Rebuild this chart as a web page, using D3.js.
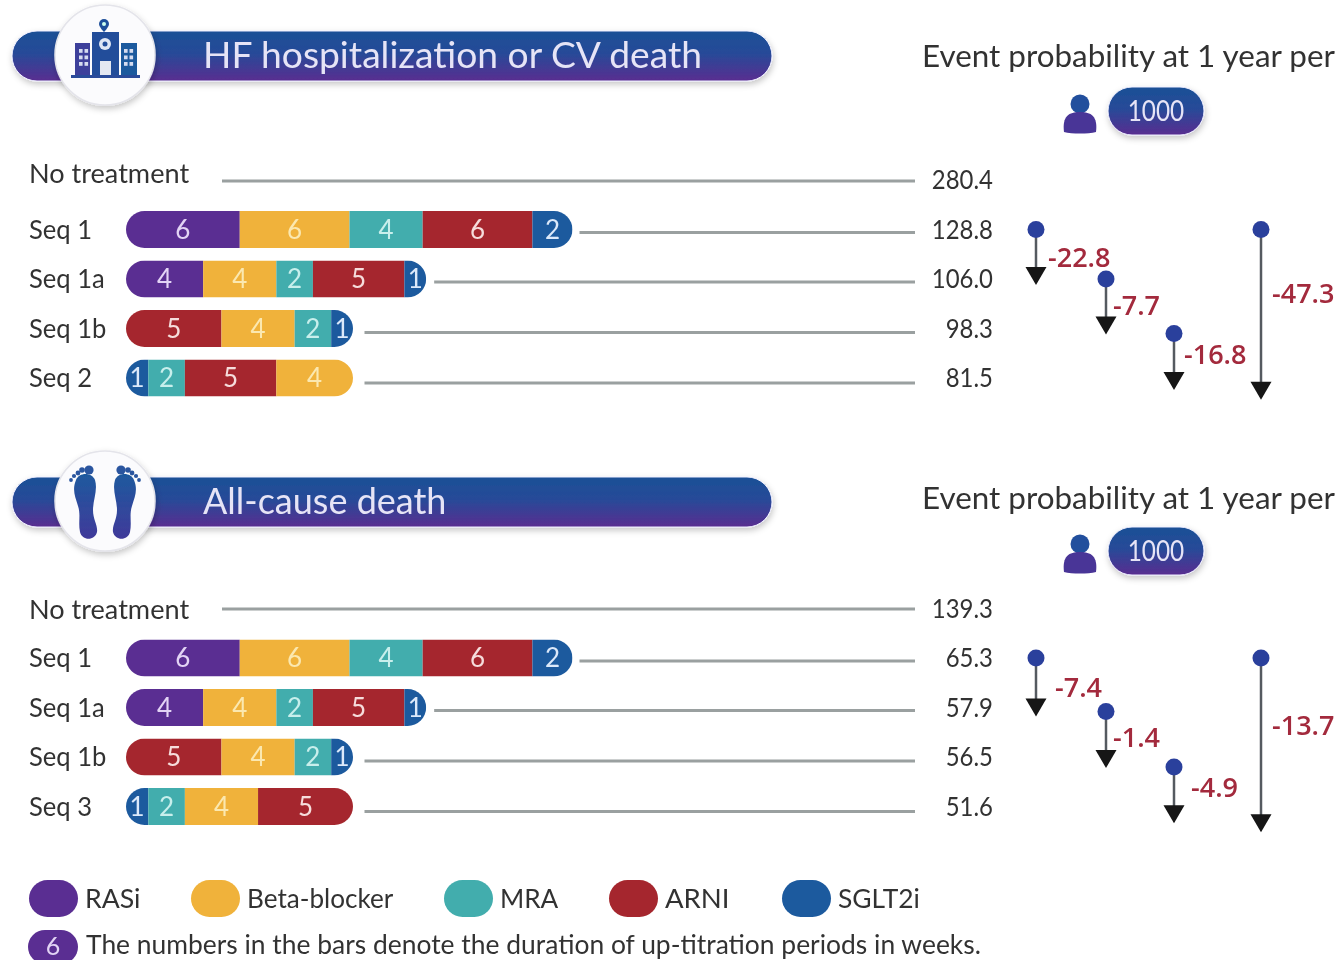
<!DOCTYPE html>
<html><head><meta charset="utf-8">
<script src="https://cdn.jsdelivr.net/npm/d3@7"></script>
<style>html,body{margin:0;padding:0;background:#fff}svg{display:block}text{font-family:Lato,"Noto Sans",sans-serif;fill:#333}</style>
</head><body><svg id="c" width="1339" height="960"></svg>
<script>
const drugs = ["RASi","Beta-blocker","MRA","ARNI","SGLT2i"];
const drugColors = ["#5a2f92","#f0b23a","#43adad","#a5282d","#1d5a9e"];
const drugTextColors = ["#e3d4f5","#fbe8b0","#c8efec","#f6dcdc","#dce9fa"];

const titleA = "HF hospitalization or CV death";
const titleB = "All-cause death";
const seqNamesA = ["Seq 1","Seq 1a","Seq 1b","Seq 2"];
const seqNamesB = ["Seq 1","Seq 1a","Seq 1b","Seq 3"];
const orderSeq1  = ["RASi","Beta-blocker","MRA","ARNI","SGLT2i"];
const weeksSeq1  = [6,6,4,6,2];
const orderSeq1a = ["RASi","Beta-blocker","MRA","ARNI","SGLT2i"];
const weeksSeq1a = [4,4,2,5,1];
const orderSeq1b = ["ARNI","Beta-blocker","MRA","SGLT2i"];
const weeksSeq1b = [5,4,2,1];
const orderSeq2  = ["SGLT2i","MRA","ARNI","Beta-blocker"];
const weeksSeq2  = [1,2,5,4];
const orderSeq3  = ["SGLT2i","MRA","Beta-blocker","ARNI"];
const weeksSeq3  = [1,2,4,5];
const noTreatmentA = "280.4";
const valuesA = ["128.8","106.0","98.3","81.5"];
const noTreatmentB = "139.3";
const valuesB = ["65.3","57.9","56.5","51.6"];
const diffsA = ["-22.8","-7.7","-16.8","-47.3"];
const diffsB = ["-7.4","-1.4","-4.9","-13.7"];
const arrowFromA = [0,1,2.1,0];
const arrowToA   = [1.1,2.1,3.22,3.42];
const arrowFromB = [0,1.08,2.2,0];
const arrowToB   = [1.16,2.2,3.32,3.5];
const diffRowA = [0.56,1.53,2.52,1.29];
const diffRowB = [0.59,1.6,2.6,1.36];
const diffColA = [1048,1113,1184,1272];
const diffColB = [1055,1113,1191,1272];

const svg = d3.select("#c");
const defs = svg.append("defs");
const grad = defs.append("linearGradient").attr("id","bn").attr("x1",0).attr("x2",0).attr("y1",0).attr("y2",1);
grad.append("stop").attr("offset","0%").attr("stop-color","#1b5196");
grad.append("stop").attr("offset","45%").attr("stop-color","#274a98");
grad.append("stop").attr("offset","100%").attr("stop-color","#592d90");
const sh = defs.append("filter").attr("id","sh").attr("x","-10%").attr("y","-30%").attr("width","120%").attr("height","170%");
sh.append("feDropShadow").attr("dx",1).attr("dy",3).attr("stdDeviation",3).attr("flood-color","#000").attr("flood-opacity",.22);
const soft = defs.append("filter").attr("id","soft"); soft.append("feGaussianBlur").attr("stdDeviation",.5);
const lgf = defs.append("linearGradient").attr("id","ft").attr("x1",0).attr("x2",0).attr("y1",0).attr("y2",1);
lgf.append("stop").attr("offset","0%").attr("stop-color","#1e5a9e");
lgf.append("stop").attr("offset","100%").attr("stop-color","#40399a");

const root = svg.append("g").attr("filter","url(#soft)");
root.append("rect").attr("width",1339).attr("height",960).attr("fill","#fff");

const color = d3.scaleOrdinal(drugs, drugColors);
const tcolor = d3.scaleOrdinal(drugs, drugTextColors);
const x = d3.scaleLinear().domain([0,24]).range([130,569]);

// narrow a text horizontally, keeping its height
function squeeze(sel,k){
  const n = sel.node();
  sel.attr("textLength",n.getComputedTextLength()*k).attr("lengthAdjust","spacingAndGlyphs");
  return sel;
}

function hospital(g){
  g.append("path").attr("fill","#1f4f9a").attr("d","M104 19a5 5 0 0 1 5 5c0 3-5 8-5 8s-5-5-5-8a5 5 0 0 1 5-5z");
  g.append("circle").attr("cx",104).attr("cy",24).attr("r",2).attr("fill","#cfe");
  g.append("rect").attr("x",92).attr("y",32).attr("width",27).attr("height",45).attr("fill","#224e9a");
  g.append("rect").attr("x",75).attr("y",43).attr("width",15).attr("height",34).attr("fill","#3d3f9b");
  g.append("rect").attr("x",121).attr("y",43).attr("width",16).attr("height",34).attr("fill","#1f5a9e");
  g.append("rect").attr("x",71).attr("y",75).attr("width",69).attr("height",3).attr("fill","#2a4b9a");
  g.append("circle").attr("cx",105).attr("cy",44).attr("r",6).attr("fill","#dfe6f4");
  g.append("circle").attr("cx",105).attr("cy",44).attr("r",2.5).attr("fill","#224e9a");
  g.append("rect").attr("x",100).attr("y",61).attr("width",11).attr("height",14).attr("fill","#e4e8f2");
  for(const bx of [79,124]) for(let r=0;r<3;r++) for(let c=0;c<2;c++)
    g.append("rect").attr("x",bx+c*5.5).attr("y",49+r*6.5).attr("width",3.6).attr("height",3.8).attr("fill","#d5dcf0");
}
function feet(g){
  const sole = "M76 480C79 472 92 472 95 480C98 490 93 500 93 510C93 520 98 525 97 532C95 541 82 541 80 532C78 522 81 515 78 506C75 496 72 490 76 480z";
  g.append("path").attr("d",sole).attr("fill","url(#ft)");
  g.append("path").attr("d",sole).attr("fill","url(#ft)").attr("transform","translate(210,0) scale(-1,1)");
  const toes = [[89,470,4.6],[82,470,2.8],[78,473,2.4],[74,476,2.1],[71,480,1.9]];
  toes.forEach(t=>g.append("circle").attr("cx",t[0]).attr("cy",t[1]).attr("r",t[2]).attr("fill","#2a559f"));
  toes.forEach(t=>g.append("circle").attr("cx",210-t[0]).attr("cy",t[1]).attr("r",t[2]).attr("fill","#2a559f"));
}

function panel(o){
  const g = root.append("g");
  const b = o.bannerTop;
  g.append("rect").attr("x",12).attr("y",b).attr("width",760).attr("height",50).attr("rx",25).attr("fill","url(#bn)").attr("stroke","#eef").attr("stroke-width",1).attr("filter","url(#sh)");
  g.append("circle").attr("cx",105).attr("cy",o.circleY).attr("r",50).attr("fill","#fbfbfd").attr("stroke","#e4e4ea").attr("stroke-width",1.5).attr("filter","url(#sh)");
  o.icon(g);
  g.append("text").attr("x",203).attr("y",b+37).attr("font-size",o.titleSize).style("fill","#e6e4f6").text(o.title);

  // header
  g.append("text").attr("x",922).attr("y",o.headerY).attr("font-size",31.4).text("Event probability at 1 year per");
  const py = o.pillCenter;
  g.append("circle").attr("cx",1080).attr("cy",py-7).attr("r",9.5).attr("fill","#234f9d");
  g.append("path").attr("fill","#4a3497").attr("d",`M1064 ${py+21}c-2 -16 5 -20 16 -20s18 4 16 20c-8 2-24 2-32 0z`);
  g.append("rect").attr("x",1108).attr("y",py-24).attr("width",96).attr("height",48).attr("rx",24).attr("fill","url(#bn)").attr("stroke","#eef").attr("filter","url(#sh)");
  squeeze(g.append("text").attr("x",1156).attr("y",py+10).attr("text-anchor","middle").attr("font-size",29).style("fill","#e6e4f6").text("1000"),.84);

  // No treatment row
  squeeze(g.append("text").attr("x",29).attr("y",o.noY+1).attr("font-size",27.5).text("No treatment"),.985);
  g.append("line").attr("x1",222).attr("x2",915).attr("y1",o.noLine).attr("y2",o.noLine).attr("stroke","#9aa0a0").attr("stroke-width",3);
  squeeze(g.append("text").attr("x",993).attr("y",o.noValY).attr("text-anchor","end").attr("font-size",27.5).text(o.noValue),.87);

  // Seq rows
  const rowPos = d3.scaleLinear().domain([0,3]).range([o.rowTop,o.rowTop+148.5]);
  const lineDrop = [3,3,4,5], lineGap = [7,8,11.5,11.5];
  o.rows.forEach((r,i)=>{
    const cy = rowPos(i), total = d3.sum(r.weeks), h=37;
    const x0 = x(0)-4, x1 = x(total)+3.5;
    squeeze(g.append("text").attr("x",29).attr("y",cy+9).attr("font-size",27.5).text(r.name),.93);
    const id = `clip${o.key}${i}`;
    defs.append("clipPath").attr("id",id).append("rect").attr("x",x0).attr("y",cy-h/2).attr("width",x1-x0).attr("height",h).attr("rx",h/2);
    const seg = g.append("g").attr("clip-path",`url(#${id})`);
    let cum = d3.cumsum(r.weeks);
    r.weeks.forEach((w,j)=>{
      const a = j? x(cum[j-1]) : x0, e = j==r.weeks.length-1? x1 : x(cum[j]);
      seg.append("rect").attr("x",a).attr("y",cy-h/2).attr("width",e-a).attr("height",h).attr("fill",color(r.order[j]));
      g.append("text").attr("x",(a+e)/2).attr("y",cy+9).attr("text-anchor","middle").attr("font-size",26).style("fill",tcolor(r.order[j])).text(w);
    });
    g.append("line").attr("x1",x1+lineGap[i]).attr("x2",915).attr("y1",cy+lineDrop[i]).attr("y2",cy+lineDrop[i]).attr("stroke","#9aa0a0").attr("stroke-width",3);
    squeeze(g.append("text").attr("x",993).attr("y",cy+9).attr("text-anchor","end").attr("font-size",27.5).text(r.value),.87);
  });

  // Arrows
  const cols = [1036,1106,1174,1261];
  o.diffs.forEach((d,i)=>{
    const y0 = rowPos(o.from[i]), y1 = rowPos(o.to[i]);
    g.append("line").attr("x1",cols[i]).attr("x2",cols[i]).attr("y1",y0).attr("y2",y1-15).attr("stroke","#555a60").attr("stroke-width",2.5);
    g.append("path").attr("d",`M${cols[i]-10.5} ${y1-17}h21l-10.5 18z`).attr("fill","#141414");
    g.append("circle").attr("cx",cols[i]).attr("cy",y0).attr("r",8.5).attr("fill","#2c3f9c");
    g.append("text").attr("x",o.dcol[i]).attr("y",rowPos(o.drow[i])+10).attr("font-size",27).attr("font-weight",600).style("font-family","'Open Sans',sans-serif").style("fill","#a32a3c").text(d);
  });
}

panel({key:"a",title:titleA,titleSize:37.2,bannerTop:31,circleY:55,icon:hospital,headerY:67,pillCenter:111,noY:182,noLine:181,noValY:189,noValue:noTreatmentA,rowTop:229.5,
  rows:[0,1,2,3].map(i=>({name:seqNamesA[i],order:[orderSeq1,orderSeq1a,orderSeq1b,orderSeq2][i],weeks:[weeksSeq1,weeksSeq1a,weeksSeq1b,weeksSeq2][i],value:valuesA[i]})),
  diffs:diffsA,from:arrowFromA,to:arrowToA,drow:diffRowA,dcol:diffColA});
panel({key:"b",title:titleB,titleSize:36,bannerTop:477,circleY:501,icon:feet,headerY:509,pillCenter:551,noY:618,noLine:609,noValY:618,noValue:noTreatmentB,rowTop:658,
  rows:[0,1,2,3].map(i=>({name:seqNamesB[i],order:[orderSeq1,orderSeq1a,orderSeq1b,orderSeq3][i],weeks:[weeksSeq1,weeksSeq1a,weeksSeq1b,weeksSeq3][i],value:valuesB[i]})),
  diffs:diffsB,from:arrowFromB,to:arrowToB,drow:diffRowB,dcol:diffColB});

// Legend
const legendX = d3.scaleOrdinal(drugs,[29,191,444,609,782]);
const legendK = d3.scaleOrdinal(drugs,[.97,.95,.95,1,.96]);
const lg = root.append("g");
drugs.forEach(d=>{
  lg.append("rect").attr("x",legendX(d)).attr("y",880).attr("width",49).attr("height",37).attr("rx",18.5).attr("fill",color(d));
  squeeze(lg.append("text").attr("x",legendX(d)+56).attr("y",908).attr("font-size",27.5).text(d),legendK(d));
});
lg.append("rect").attr("x",28).attr("y",930).attr("width",50).attr("height",34).attr("rx",17).attr("fill",color("RASi"));
lg.append("text").attr("x",53).attr("y",955).attr("text-anchor","middle").attr("font-size",25).style("fill","#e3d4f5").text("6");
squeeze(lg.append("text").attr("x",86).attr("y",954).attr("font-size",26.5).text("The numbers in the bars denote the duration of up-titration periods in weeks."),.997);
</script></body></html>
